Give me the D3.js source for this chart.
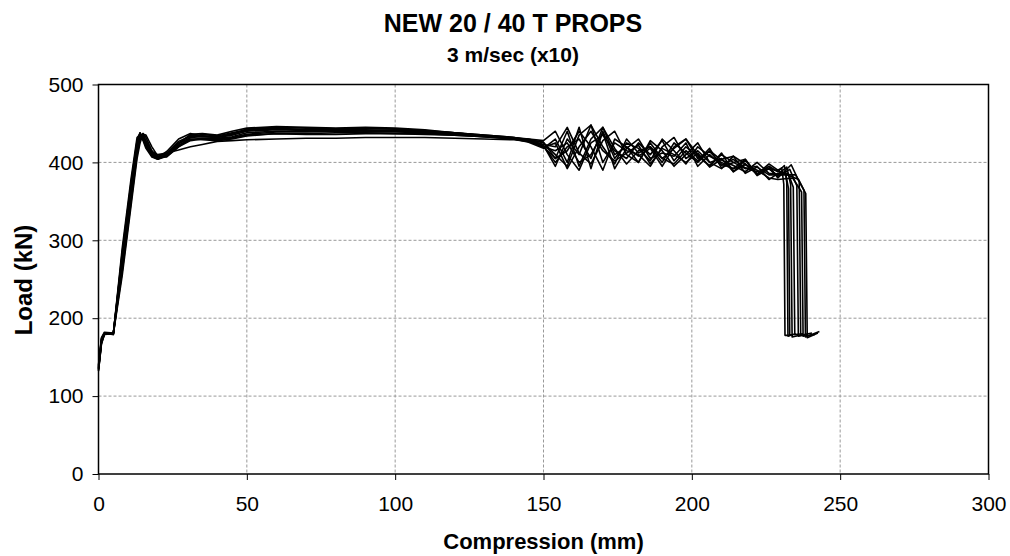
<!DOCTYPE html>
<html>
<head>
<meta charset="utf-8">
<script src="https://cdn.jsdelivr.net/npm/d3@7"></script>
<style>
  body { margin: 0; background: #fff; }
  svg text { font-family: Arial, "Liberation Sans", sans-serif; fill: #000; }
</style>
</head>
<body>
<div id="chart"></div>
<script>
// compression positions (mm) shared by all ten runs
var compression = [0, 1, 2, 5, 8, 11, 13, 14, 15, 16, 18, 20, 23, 27, 31, 35, 40, 45, 50,
    60, 70, 80, 90, 100, 110, 120, 130, 140, 145, 150, 154, 158, 162, 166, 170, 174, 178,
    182, 186, 190, 194, 198, 202, 206, 210, 214, 218, 222, 226, 229];

// load (kN) of each run at the positions above
var run1 = [135,170,180,180,285,375,428,438,430,420,410,406,414,430,437,434,433,436,443,445,444,443,444,443,441,438,435,432,428,420,405,440,395,430,445,410,420,400,425,405,418,430,410,395,412,388,403,385,398,390];
var run2 = [138,172,181,179,270,360,418,434,436,424,412,408,412,427,434,433,432,437,441,443,442,443,441,442,440,438,434,431,430,425,410,395,435,448,400,425,415,410,395,420,432,405,415,400,392,408,398,385,395,388];
var run3 = [132,168,179,181,260,350,410,428,437,432,415,405,408,424,436,437,435,440,444,446,445,444,445,444,442,438,434,430,426,418,430,400,445,392,440,405,425,418,402,430,415,398,420,408,400,392,404,383,392,383];
var run4 = [136,171,180,180,290,380,432,436,428,418,407,404,410,422,430,429,428,430,434,437,437,438,438,437,437,435,433,430,428,422,395,430,410,448,420,398,430,412,420,400,425,412,400,415,403,396,388,400,386,385];
var run5 = [140,175,182,181,275,365,422,435,433,423,411,407,411,424,432,431,431,433,438,440,440,441,440,440,439,436,434,432,430,428,440,410,390,425,435,415,405,425,410,428,402,420,408,396,410,400,392,395,378,386];
var run6 = [134,169,180,179,265,355,415,430,434,428,414,410,412,416,420,423,427,428,429,430,431,431,432,432,432,431,430,429,427,420,415,425,400,410,438,392,418,430,405,412,408,425,395,410,396,404,393,388,392,382];
var run7 = [137,173,181,180,280,370,425,437,432,422,409,405,409,421,429,431,430,432,436,439,439,440,439,439,438,436,433,431,429,423,420,445,412,398,428,440,410,400,428,415,395,410,425,400,405,388,398,385,395,380];
var run8 = [133,167,179,180,255,345,405,425,436,435,420,408,407,420,432,436,434,438,442,444,442,442,442,441,440,438,435,432,429,426,405,415,440,420,390,430,420,408,418,395,420,430,405,414,398,392,397,390,380,378];
var run9 = [139,174,180,181,272,362,420,433,437,427,413,406,410,425,434,434,432,435,440,442,441,441,441,441,440,437,434,431,428,419,425,392,420,440,415,402,412,422,398,418,410,400,412,394,404,408,386,394,384,384];
var run10 = [135,170,180,180,282,372,426,438,431,421,408,404,408,420,428,430,429,431,435,437,436,436,437,437,436,435,433,430,427,421,400,420,430,405,445,418,398,415,420,405,398,415,402,418,393,400,404,384,392,389];

// failure drop at the end of each run
var tailX1 = [230.3, 231.0, 231.4, 233.0];       var tailY1 = [393, 372, 178, 178];
var tailX2 = [231.2, 232.0, 232.4, 234.0];       var tailY2 = [396, 374, 177, 179];
var tailX3 = [231.5, 232.6, 233.0, 235.0];       var tailY3 = [388, 366, 178, 180];
var tailX4 = [232.0, 233.3, 233.8, 236.5];       var tailY4 = [394, 372, 176, 178];
var tailX5 = [232.5, 234.2, 234.7, 237.5];       var tailY5 = [386, 368, 179, 180];
var tailX6 = [233.0, 235.4, 235.9, 239.0];       var tailY6 = [391, 370, 177, 179];
var tailX7 = [233.5, 236.2, 236.7, 240.5];       var tailY7 = [397, 375, 178, 181];
var tailX8 = [234.0, 237.0, 237.5, 241.5];       var tailY8 = [380, 362, 177, 179];
var tailX9 = [235.0, 237.8, 238.3, 243.0];       var tailY9 = [384, 364, 176, 183];
var tailX10 = [236.0, 238.4, 238.9, 242.5];      var tailY10 = [378, 360, 175, 181];

var runs = [run1, run2, run3, run4, run5, run6, run7, run8, run9, run10];
var tailsX = [tailX1, tailX2, tailX3, tailX4, tailX5, tailX6, tailX7, tailX8, tailX9, tailX10];
var tailsY = [tailY1, tailY2, tailY3, tailY4, tailY5, tailY6, tailY7, tailY8, tailY9, tailY10];

var xTicks = [0, 50, 100, 150, 200, 250, 300];
var yTicks = [0, 100, 200, 300, 400, 500];

var W = 1010, H = 556;
var margin = { top: 84.5, right: 21.5, bottom: 82, left: 98.5 },
    width = W - margin.left - margin.right,
    height = H - margin.top - margin.bottom;

var svg = d3.select("#chart").append("svg")
    .attr("width", W)
    .attr("height", H);

var g = svg.append("g")
    .attr("transform", "translate(" + margin.left + "," + margin.top + ")");

var x = d3.scaleLinear().domain([0, 300]).range([0, width]);
var y = d3.scaleLinear().domain([0, 500]).range([height, 0]);

// grid
g.selectAll("line.x-grid")
    .data(xTicks.slice(1, -1))
    .enter().append("line")
    .attr("class", "x-grid")
    .attr("x1", function(d) { return x(d); })
    .attr("x2", function(d) { return x(d); })
    .attr("y1", 0)
    .attr("y2", height)
    .style("stroke", "#999")
    .style("stroke-dasharray", "3,2");

g.selectAll("line.y-grid")
    .data(yTicks.slice(1))
    .enter().append("line")
    .attr("class", "y-grid")
    .attr("x1", 0)
    .attr("x2", width)
    .attr("y1", function(d) { return y(d); })
    .attr("y2", function(d) { return y(d); })
    .style("stroke", "#999")
    .style("stroke-dasharray", "3,2");

// plot border
g.append("rect")
    .attr("width", width)
    .attr("height", height)
    .style("fill", "none")
    .style("stroke", "#000")
    .style("stroke-width", 1.5);

// axes
var xAxis = g.append("g")
    .attr("transform", "translate(0," + height + ")")
    .call(d3.axisBottom(x).tickValues(xTicks).tickSize(6).tickPadding(16));
var yAxis = g.append("g")
    .call(d3.axisLeft(y).tickValues(yTicks).tickSize(6).tickPadding(9));

[xAxis, yAxis].forEach(function(a) {
    a.select(".domain").remove();
    a.selectAll("line").style("stroke", "#000");
    a.selectAll("text").style("font-size", "21px").attr("fill", "#000");
});

// curves
var line = d3.line()
    .x(function(d) { return x(d[0]); })
    .y(function(d) { return y(d[1]); });

runs.forEach(function(r, i) {
    var pts = compression.map(function(c, j) { return [c, r[j]]; });
    tailsX[i].forEach(function(c, j) { pts.push([c, tailsY[i][j]]); });
    g.append("path")
        .datum(pts)
        .attr("d", line)
        .style("fill", "none")
        .style("stroke", "#000")
        .style("stroke-width", 1.6)
        .style("stroke-linejoin", "round");
});

// titles
svg.append("text")
    .attr("x", 513)
    .attr("y", 32)
    .style("text-anchor", "middle")
    .style("font-size", "25px")
    .style("font-weight", "bold")
    .text("NEW 20 / 40 T PROPS");

svg.append("text")
    .attr("x", 513)
    .attr("y", 62)
    .style("text-anchor", "middle")
    .style("font-size", "21px")
    .style("font-weight", "bold")
    .text("3 m/sec (x10)");

svg.append("text")
    .attr("x", margin.left + width / 2)
    .attr("y", 549)
    .style("text-anchor", "middle")
    .style("font-size", "22px")
    .style("font-weight", "bold")
    .text("Compression (mm)");

svg.append("text")
    .attr("transform", "rotate(-90)")
    .attr("x", -280)
    .attr("y", 32)
    .style("text-anchor", "middle")
    .style("font-size", "24px")
    .style("font-weight", "bold")
    .text("Load (kN)");
</script>
</body>
</html>
